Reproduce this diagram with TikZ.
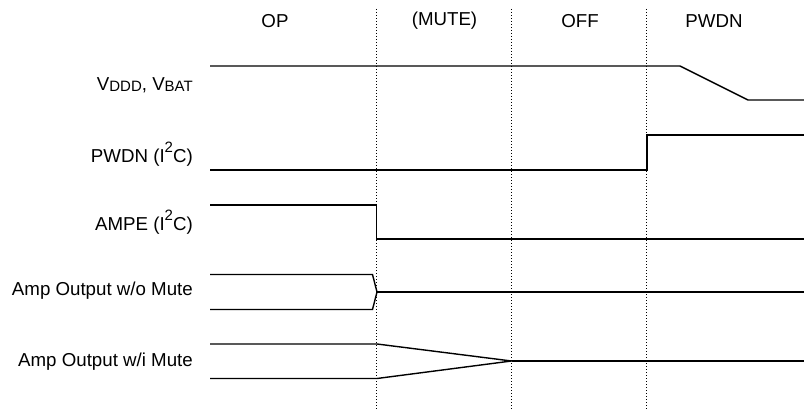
\documentclass[tikz,border=0pt]{standalone}
\usepackage{fontspec}
\setmainfont{Liberation Sans}
\newcommand{\mysub}[1]{\raisebox{-1pt}{\fontsize{15}{17}\selectfont #1}}
\newcommand{\mysup}[1]{\raisebox{10pt}{\fontsize{15}{17}\selectfont #1}}
\begin{document}
\begin{tikzpicture}[x=1pt,y=-1pt,
  sig/.style={line width=1.4pt, line join=miter},
  divider/.style={line width=1pt, dash pattern=on 1pt off 2pt},
  lbl/.style={anchor=east, inner sep=0pt, font=\fontsize{18.7}{21}\selectfont},
  hdr/.style={inner sep=0pt, font=\fontsize{18.7}{21}\selectfont}]
\useasboundingbox (0,0) rectangle (804,409);
% phase headers
\node[hdr] (hop) at (275,21) {OP};
\node[hdr] (hmute) at (444.5,21) {(MUTE)};
\node[hdr] (hoff) at (580,21) {OFF};
\node[hdr] (hpwdn) at (714,21) {PWDN};
% dividers
\coordinate (d1t) at (376.5,9); \coordinate (d1b) at (376.5,409);
\coordinate (d2t) at (511.5,9); \coordinate (d2b) at (511.5,409);
\coordinate (d3t) at (646.5,9); \coordinate (d3b) at (646.5,409);
\draw[divider] (d1t) -- (d1b);
\draw[divider] (d2t) -- (d2b);
\draw[divider] (d3t) -- (d3b);
% labels
\node[lbl] (lv) at (193,85) {V\mysub{DDD}, V\mysub{BAT}};
\node[lbl] (lp) at (193,154) {PWDN (I\mysup{2}C)};
\node[lbl] (la) at (193,222) {AMPE (I\mysup{2}C)};
\node[lbl] (lo) at (193,291) {Amp Output w/o Mute};
\node[lbl] (lm) at (193,361.5) {Amp Output w/i Mute};
% VDDD, VBAT
\coordinate (v0) at (210,66); \coordinate (v1) at (680,66);
\coordinate (v2) at (748,100); \coordinate (v3) at (804,100);
\draw[sig] (v0) -- (v1) -- (v2) -- (v3);
% PWDN
\coordinate (p0) at (210,170); \coordinate (p1) at (647,170);
\coordinate (p2) at (647,135); \coordinate (p3) at (804,135);
\draw[sig] (p0) -- (p1) -- (p2) -- (p3);
% AMPE
\coordinate (a0) at (210,205); \coordinate (a1) at (376.5,205);
\coordinate (a2) at (376.5,239); \coordinate (a3) at (804,239);
\draw[sig] (a0) -- (a1) -- (a2) -- (a3);
% Amp output w/o mute
\coordinate (o0) at (210,274.5); \coordinate (o1) at (372.5,274.5);
\coordinate (om) at (377,292); \coordinate (o2) at (372.5,309.5);
\coordinate (o3) at (210,309.5); \coordinate (oe) at (804,292);
\draw[sig] (o0) -- (o1) -- (om) -- (o2) -- (o3);
\draw[sig] (om) -- (oe);
% Amp output w/i mute
\coordinate (m0) at (210,344); \coordinate (m1) at (377,344);
\coordinate (mm) at (511.5,361); \coordinate (m2) at (377,378.5);
\coordinate (m3) at (210,378.5); \coordinate (me) at (804,361);
\draw[sig] (m0) -- (m1) -- (mm) -- (m2) -- (m3);
\draw[sig] (mm) -- (me);
\end{tikzpicture}
\end{document}
